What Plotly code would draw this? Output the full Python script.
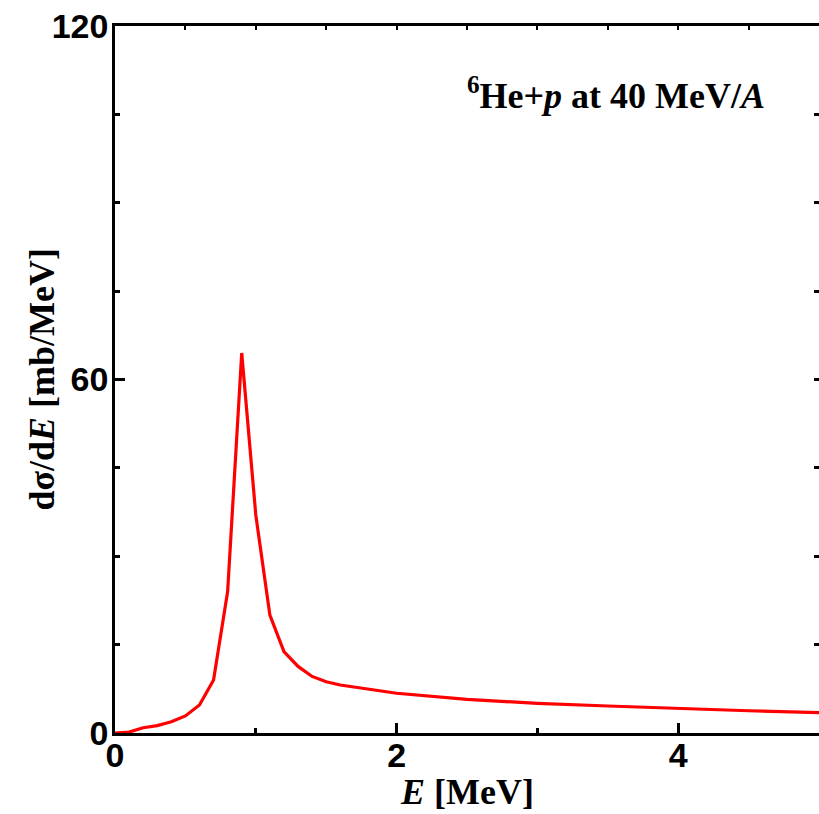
import plotly.graph_objects as go

# Excitation-energy spectrum of 6He+p breakup
energy = [0.0, 0.1, 0.2, 0.3, 0.4, 0.5, 0.6, 0.7, 0.8, 0.9, 1.0, 1.1, 1.2, 1.3,
          1.4, 1.5, 1.6, 1.8, 2.0, 2.5, 3.0, 3.5, 4.0, 4.5, 5.0]
dsigma_de = [0.0, 0.15, 0.9, 1.25, 1.9, 2.9, 4.75, 9.0, 24.0, 64.5, 37.0, 20.0,
             13.8, 11.3, 9.6, 8.7, 8.15, 7.4, 6.75, 5.7, 5.04, 4.58, 4.13, 3.78, 3.45]

x_ticks = [0, 2, 4]
y_ticks = [0, 60, 120]
x_range = [0, 5]
y_range = [0, 120]

tick_font = dict(family="Liberation Sans", size=34, color="black", weight="bold")
serif_font = dict(family="Liberation Serif", size=36, color="black")

fig = go.Figure()
fig.add_trace(go.Scatter(
    x=energy, y=dsigma_de, mode="lines",
    line=dict(color="#ff0000", width=3.2),
    showlegend=False,
))

fig.update_layout(
    width=819, height=814,
    margin=dict(l=115, r=0, t=26, b=81),
    paper_bgcolor="white", plot_bgcolor="white",
    xaxis=dict(
        range=x_range, tickvals=x_ticks, ticktext=[str(v) for v in x_ticks],
        ticks="inside", ticklen=10, tickwidth=2.5, tickcolor="black",
        minor=dict(dtick=1, ticks="inside", ticklen=5, tickwidth=2.5, tickcolor="black"),
        showline=True, linecolor="black", linewidth=2.5, mirror=True,
        showgrid=False, zeroline=False, tickfont=tick_font,
        ticklabelstandoff=-10,
    ),
    yaxis=dict(
        range=y_range, tickvals=y_ticks, ticktext=[str(v) for v in y_ticks],
        ticks="inside", ticklen=10, tickwidth=2.5, tickcolor="black",
        minor=dict(dtick=15, ticks="inside", ticklen=5, tickwidth=2.5, tickcolor="black"),
        showline=True, linecolor="black", linewidth=2.5,
        showgrid=False, zeroline=False, tickfont=tick_font,
        ticklabelstandoff=-3,
    ),
    xaxis2=dict(
        overlaying="x", side="top", range=x_range, dtick=0.5,
        ticks="inside", ticklen=4, tickwidth=2, tickcolor="black",
        showticklabels=False, showgrid=False, zeroline=False, showline=False,
    ),
    yaxis2=dict(
        overlaying="y", side="right", range=y_range, dtick=15,
        ticks="inside", ticklen=5, tickwidth=2.5, tickcolor="black",
        showticklabels=False, showgrid=False, zeroline=False, showline=False,
    ),
    annotations=[
        dict(
            text="<b><sup>6</sup>He+<i>p</i> at 40 MeV/<i>A</i></b>",
            xref="paper", yref="paper", x=0.926, y=0.905,
            xanchor="right", yanchor="middle", showarrow=False,
            font=serif_font,
        ),
        # axis titles
        dict(
            text="<b><i>E</i> [MeV]</b>",
            xref="paper", yref="paper", x=0.5, y=-0.084,
            xanchor="center", yanchor="middle", showarrow=False,
            font=serif_font,
        ),
        dict(
            text="<b>dσ/d<i>E</i> [mb/MeV]</b>",
            xref="paper", yref="paper", x=-0.105, y=0.5, textangle=-90,
            xanchor="center", yanchor="middle", showarrow=False,
            font=serif_font,
        ),
    ],
)

# invisible trace so the tick-only mirror axes are drawn
fig.add_trace(go.Scatter(x=[None], y=[None], xaxis="x2", yaxis="y2",
                         showlegend=False, hoverinfo="skip"))

fig.write_html("out.html")
